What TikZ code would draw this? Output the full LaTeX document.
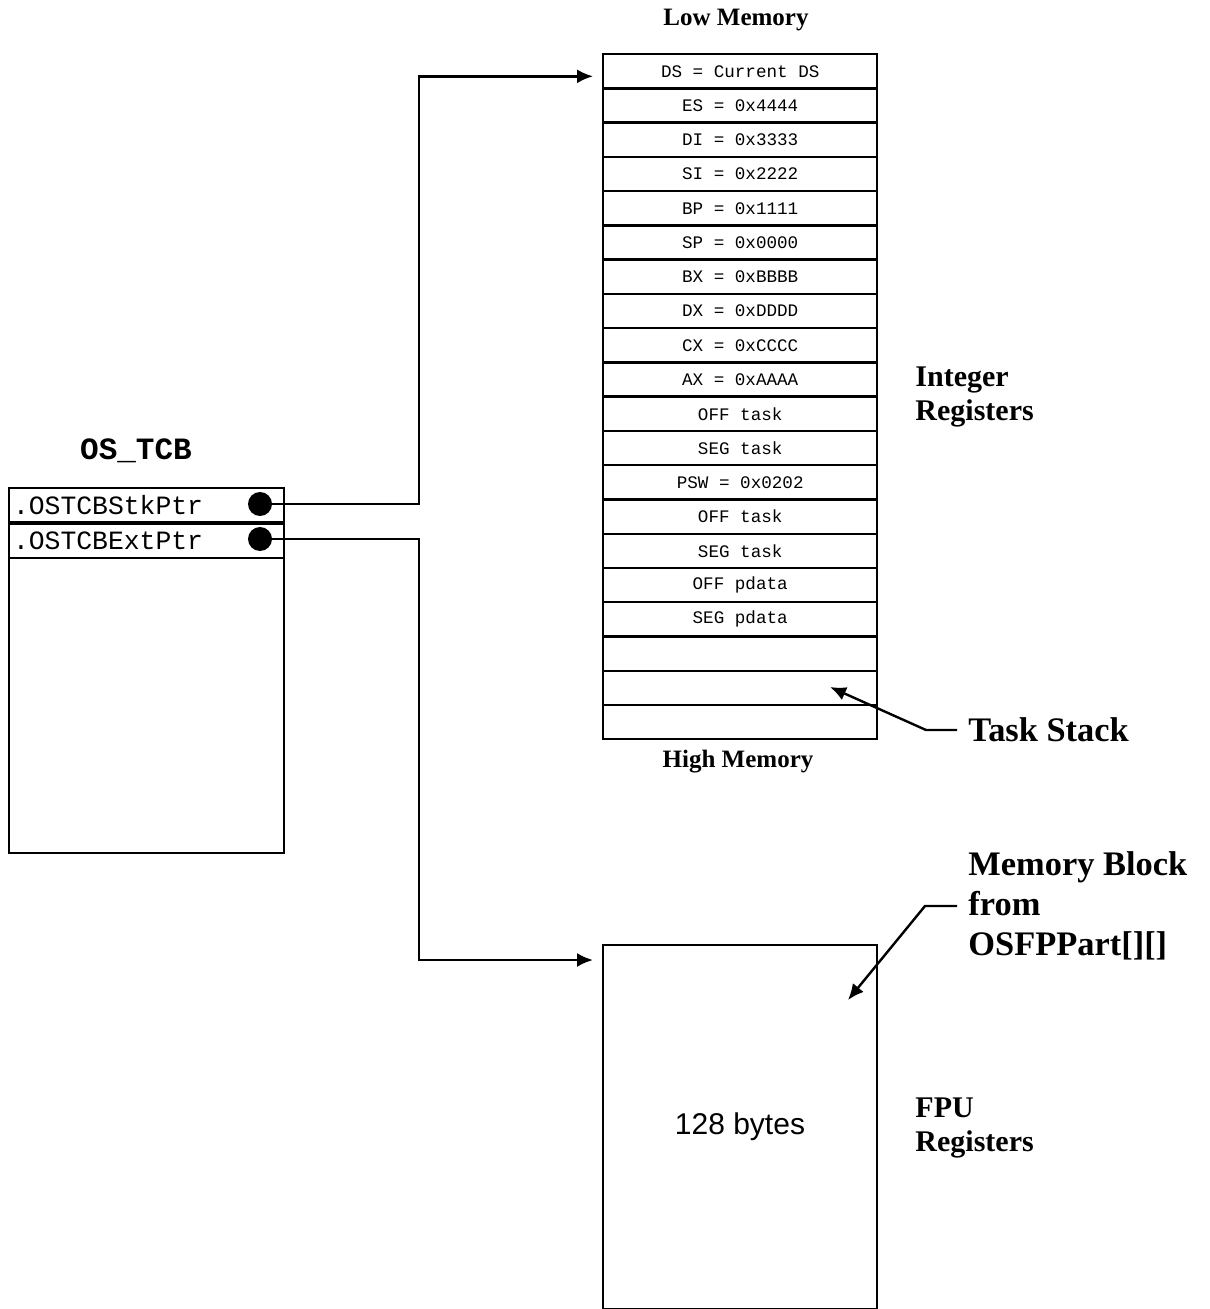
\documentclass[tikz,border=0pt]{standalone}
\usepackage{fontspec}
\setmainfont{Liberation Serif}
\setsansfont{Liberation Sans}
\setmonofont{Liberation Mono}
\usepackage{tikz}
\usetikzlibrary{arrows.meta}
\usetikzlibrary{positioning}

\begin{document}
\begin{tikzpicture}[
        x=0.5pt, y=-0.5pt,
        thick,
        % 
        reg cell/.style={
            draw,
            line width=1.2pt,
            anchor=north west,
            minimum width=137pt,
            minimum height=17.125pt,
            inner sep=0pt,
            font=\ttfamily\fontsize{8.8}{10}\selectfont,
        },
        % 
        tcb field/.style={
            draw,
            line width=1pt,
            anchor=north west,
            minimum width=137.5pt,
            minimum height=17pt,
            inner xsep=2pt,
            inner ysep=0pt,
            text width=133.5pt,
            align=left,
            font=\ttfamily\fontsize{13.2}{15}\selectfont,
        },
        ptr dot/.style={circle, fill, minimum size=12pt, inner sep=0pt},
        mem label/.style={font=\bfseries\fontsize{12.5}{14}\selectfont},
        side label/.style={anchor=west, align=left, font=\bfseries\fontsize{15}{17}\selectfont},
        big label/.style={anchor=west, align=left, font=\bfseries\fontsize{17.2}{20}\selectfont},
        link edge/.style={-{Latex[length=8pt,width=7pt]}, line width=1.2pt},
        note edge/.style={-{Latex[length=8pt,width=7pt]}, line width=1.2pt}
        ]
        \useasboundingbox (0,0) rectangle (1209,1309);
        
        % Vertices
        
        \foreach \lbl [count=\i] in {DS = Current DS, ES = 0x4444, DI = 0x3333,
            SI = 0x2222, BP = 0x1111, SP = 0x0000, BX = 0xBBBB, DX = 0xDDDD,
            CX = 0xCCCC, AX = 0xAAAA, OFF task, SEG task, PSW = 0x0202,
            OFF task, SEG task, OFF pdata, SEG pdata, \null, \null, \null}
            \node[reg cell] (r\i) at (602, {53+(\i-1)*34.25}) {\lbl};
        
        \node[mem label] (low) at (736, 20) {Low Memory};
        \node[mem label] (high) at (738, 762) {High Memory};
        \node[side label] (intreg) at (908, 397) {Integer\\Registers};
        \node[big label] (tasklbl) at (961, 730) {Task Stack};
        %
        \node[draw, line width=1pt, anchor=north west, minimum width=137pt,
            minimum height=182pt, font=\sffamily\fontsize{15}{17}\selectfont]
            (fpu) at (602, 944) {128 bytes};
        \node[side label] (fpureg) at (908, 1128) {FPU\\Registers};
        \node[big label] (mblk) at (961, 906) {Memory Block\\from\\OSFPPart[][]};
        %
        \node[font=\ttfamily\bfseries\fontsize{15.5}{17}\selectfont] (tcbtitle) at (136, 451) {OS\_TCB};
        \node[draw, line width=1pt, anchor=north west, minimum width=137.5pt,
            minimum height=182.5pt] (tcb) at (8, 487) {};
        \node[tcb field] (stk) at (8, 487) {.OSTCBStkPtr};
        \node[tcb field, below=0pt of stk] (ext) {.OSTCBExtPtr};
        \node[ptr dot] (dstk) at (260, 504) {};
        \node[ptr dot] (dext) at (260, 539) {};
        %
        \coordinate (stkpt) at (830, 687);
        \coordinate (fpupt) at (848, 1000);
        
        % Edges
        
        \draw[link edge, shorten >=4.5pt] (dstk.center) -- ++(159,0) |- ([yshift=-2.5pt]r1.west);
        \draw[link edge, shorten >=4.5pt] (dext.center) -- ++(159,0) |- ([yshift=-8pt]fpu.north west);
        %
        \draw[note edge, shorten <=2pt] (tasklbl.west) -- ++(-35,0) -- (stkpt);
        \draw[note edge, shorten <=2pt] (mblk.west) -- ++(-36,0) -- (fpupt);
        % 
\end{tikzpicture}
\end{document}
